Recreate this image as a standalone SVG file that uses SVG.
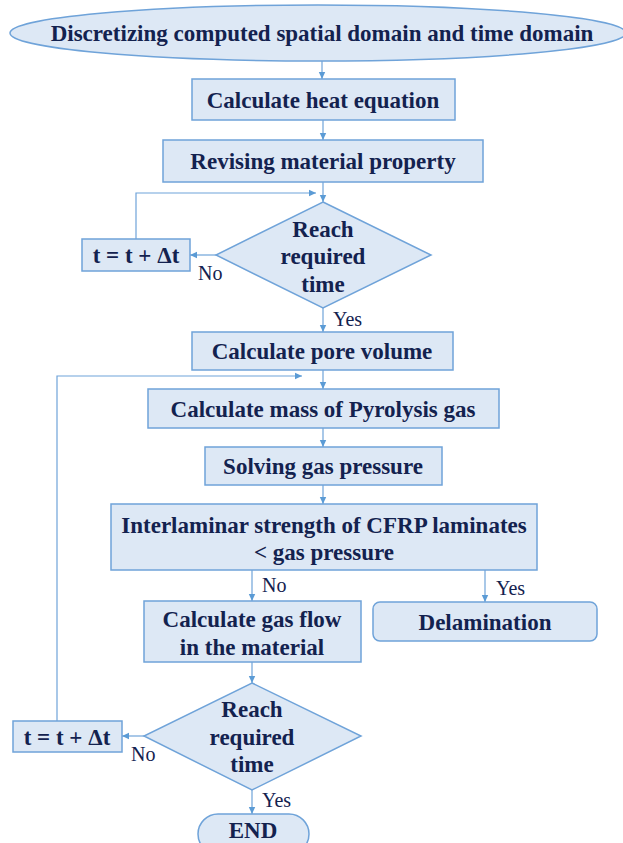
<svg xmlns="http://www.w3.org/2000/svg" width="623" height="843" viewBox="0 0 623 843">
<defs>
<style>
.n{fill:#DDE8F5;stroke:#6FA3D9;stroke-width:1.5}
.t{font-family:"Liberation Serif","Times New Roman",serif;font-weight:bold;font-size:23px;fill:#13224F;text-anchor:middle;dominant-baseline:central}
.l{font-family:"Liberation Serif","Times New Roman",serif;font-size:20px;fill:#13224F}
.c{fill:none;stroke:#6FA3D9;stroke-width:1.2}
</style>
<marker id="a" markerUnits="userSpaceOnUse" markerWidth="8" markerHeight="8" refX="7" refY="4" orient="auto">
<path d="M0,0.8 L7,4 L0,7.2 Z" fill="#5B9BD5"/>
</marker>
</defs>
<rect width="623" height="843" fill="#fff"/>
<g id="connectors">
<path class="c" d="M322,61 V79" marker-end="url(#a)"/>
<path class="c" d="M323,120 V140" marker-end="url(#a)"/>
<path class="c" d="M323,182 V202" marker-end="url(#a)"/>
<path class="c" d="M136,239 V193 H316" marker-end="url(#a)"/>
<path class="c" d="M216,255 H190" marker-end="url(#a)"/>
<path class="c" d="M323,308 V332" marker-end="url(#a)"/>
<path class="c" d="M323,370 V389" marker-end="url(#a)"/>
<path class="c" d="M57,721 V376 H302" marker-end="url(#a)"/>
<path class="c" d="M323,428 V447" marker-end="url(#a)"/>
<path class="c" d="M323,485 V504" marker-end="url(#a)"/>
<path class="c" d="M252,570 V601" marker-end="url(#a)"/>
<path class="c" d="M485,570 V602" marker-end="url(#a)"/>
<path class="c" d="M252,662 V683" marker-end="url(#a)"/>
<path class="c" d="M144,736 H122" marker-end="url(#a)"/>
<path class="c" d="M252,790 V814" marker-end="url(#a)"/>
<text class="l" x="198" y="280">No</text>
<text class="l" x="333" y="326">Yes</text>
<text class="l" x="262" y="592">No</text>
<text class="l" x="496" y="595">Yes</text>
<text class="l" x="131" y="761">No</text>
<text class="l" x="262" y="807">Yes</text>
</g>
<g id="start">
<ellipse class="n" cx="318" cy="33" rx="308" ry="28"/>
<text class="t" x="322" y="33">Discretizing computed spatial domain and time domain</text>
</g>
<g id="heat">
<rect class="n" x="192" y="79" width="263" height="41"/>
<text class="t" x="323" y="100">Calculate heat equation</text>
</g>
<g id="revise">
<rect class="n" x="163" y="140" width="320" height="42"/>
<text class="t" x="323" y="161">Revising material property</text>
</g>
<g id="decision1">
<polygon class="n" points="323,202 431,255 323,308 216,255"/>
<text class="t" x="323" y="229">Reach</text>
<text class="t" x="323" y="256">required</text>
<text class="t" x="323" y="284">time</text>
</g>
<g id="step1">
<rect class="n" x="82" y="239" width="108" height="32"/>
<text class="t" x="136" y="255">t = t + Δt</text>
</g>
<g id="pore">
<rect class="n" x="192" y="332" width="261" height="38"/>
<text class="t" x="322" y="351">Calculate pore volume</text>
</g>
<g id="pyrolysis">
<rect class="n" x="148" y="389" width="351" height="39"/>
<text class="t" x="323" y="409">Calculate mass of Pyrolysis gas</text>
</g>
<g id="pressure">
<rect class="n" x="205" y="447" width="237" height="38"/>
<text class="t" x="323" y="466">Solving gas pressure</text>
</g>
<g id="interlaminar">
<rect class="n" x="111" y="504" width="426" height="66"/>
<text class="t" x="324" y="525">Interlaminar strength of CFRP laminates</text>
<text class="t" x="324" y="552">&lt; gas pressure</text>
</g>
<g id="gasflow">
<rect class="n" x="144" y="601" width="217" height="61"/>
<text class="t" x="252" y="619">Calculate gas flow</text>
<text class="t" x="252" y="647">in the material</text>
</g>
<g id="delamination">
<rect class="n" x="373" y="602" width="224" height="39" rx="7"/>
<text class="t" x="485" y="622">Delamination</text>
</g>
<g id="decision2">
<polygon class="n" points="252,683 361,736 252,790 144,736"/>
<text class="t" x="252" y="709">Reach</text>
<text class="t" x="252" y="737">required</text>
<text class="t" x="252" y="764">time</text>
</g>
<g id="step2">
<rect class="n" x="13" y="721" width="109" height="31"/>
<text class="t" x="67" y="737">t = t + Δt</text>
</g>
<g id="end">
<rect class="n" x="198" y="814" width="111" height="40" rx="20"/>
<text class="t" x="253" y="830">END</text>
</g>
</svg>
